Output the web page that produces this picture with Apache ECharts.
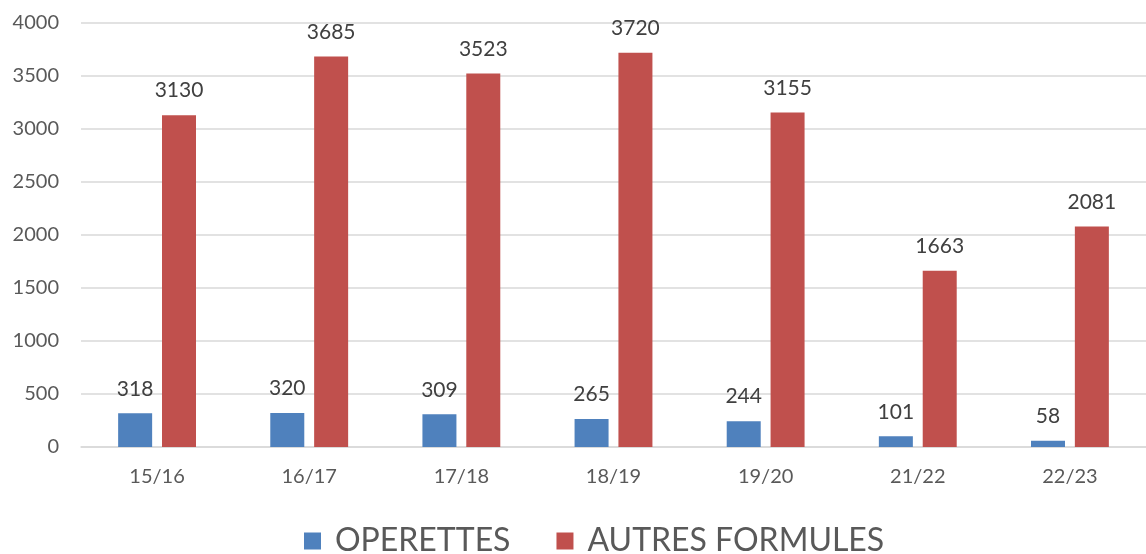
<!DOCTYPE html>
<html>
<head>
<meta charset="utf-8">
<script src="https://cdn.jsdelivr.net/npm/echarts@6/dist/echarts.min.js"></script>
<style>
  html, body { margin: 0; padding: 0; background: #fff; }
  #container { width: 1146px; height: 554px; }
</style>
</head>
<body>
<div id="container"></div>
<script>
const seasons = ['15/16', '16/17', '17/18', '18/19', '19/20', '21/22', '22/23'];
const operettes = [318, 320, 309, 265, 244, 101, 58];
const autresFormules = [3130, 3685, 3523, 3720, 3155, 1663, 2081];

const dom = document.getElementById('container');
const myChart = echarts.init(dom);
const font = 'Lato, "Open Sans", sans-serif';

const labelStyle = {
  show: true,
  position: 'top',
  distance: 14,
  color: '#404040',
  fontSize: 21,
  fontFamily: font,
};

const option = {
  animation: false,
  textStyle: { fontFamily: font },
  legend: {
    bottom: -8,
    left: 299,
    itemWidth: 17,
    itemHeight: 17,
    itemGap: 46,
    icon: 'rect',
    textStyle: {
      fontSize: 32,
      color: '#595959',
      fontFamily: font,
      padding: [0, 0, 0, 9],
    },
    data: ['OPERETTES', 'AUTRES FORMULES'],
  },
  grid: {
    left: 81,
    right: 0,
    top: 23,
    bottom: 107,
  },
  xAxis: {
    type: 'category',
    data: seasons,
    axisLine: { lineStyle: { color: '#d9d9d9', width: 1.5 } },
    axisTick: { show: false },
    axisLabel: { color: '#595959', fontSize: 20, margin: 20, fontFamily: font },
  },
  yAxis: {
    type: 'value',
    min: 0,
    max: 4000,
    interval: 500,
    axisLine: { show: false },
    axisTick: { show: false },
    axisLabel: {
      color: '#595959',
      fontSize: 20,
      margin: 22,
      fontFamily: font,
      formatter: (v) => String(v),
    },
    splitLine: { lineStyle: { color: '#d9d9d9', width: 1.5 } },
  },
  series: [
    {
      name: 'OPERETTES',
      type: 'bar',
      data: operettes,
      barWidth: 34,
      barGap: '29%',
      itemStyle: { color: '#4f81bd' },
      label: labelStyle,
    },
    {
      name: 'AUTRES FORMULES',
      type: 'bar',
      data: autresFormules,
      barWidth: 34,
      itemStyle: { color: '#c0504d' },
      label: labelStyle,
    },
  ],
};

myChart.setOption(option, true);
</script>
</body>
</html>
